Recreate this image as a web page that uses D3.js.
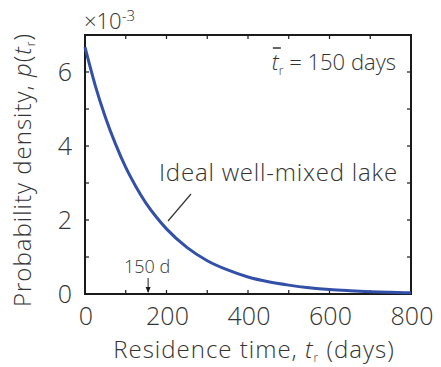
<!DOCTYPE html>
<html><head><meta charset="utf-8">
<script src="https://cdn.jsdelivr.net/npm/d3@7"></script>
<style>body{margin:0;background:#fff}svg text{font-family:"Open Sans",sans-serif;font-weight:300;fill:#333}</style>
</head><body><svg id="c" width="441" height="367"></svg>
<script>
// Residence time (days) and probability density (x10^-3)
const times = [0,25,50,75,100,125,150,175,200,250,300,350,400,450,500,550,600,650,700,750,800];
const density = [6.67,5.64,4.78,4.05,3.42,2.90,2.45,2.08,1.76,1.26,0.90,0.65,0.46,0.33,0.24,0.17,0.12,0.088,0.063,0.045,0.032];
const xTicks = [0,200,400,600,800];
const yTicks = [0,2,4,6];
const meanDays = 150;

const svg = d3.select("#c");
const x = d3.scaleLinear().domain([0,800]).range([85,411]);
const y = d3.scaleLinear().domain([0,7]).range([294,35]);
const ink = "#1a1a1a";

// frame
svg.append("rect").attr("x",85).attr("y",35).attr("width",326).attr("height",259)
  .attr("fill","none").attr("stroke",ink).attr("stroke-width",2);

// inward ticks on all sides
const xMinor = d3.range(100,800,100), yMinor = d3.range(1,7,1);
const tk = 4;
xMinor.forEach(v=>{
  svg.append("line").attr("x1",x(v)).attr("x2",x(v)).attr("y1",294).attr("y2",294-tk).attr("stroke",ink).attr("stroke-width",1.2);
  svg.append("line").attr("x1",x(v)).attr("x2",x(v)).attr("y1",35).attr("y2",35+tk).attr("stroke",ink).attr("stroke-width",1.2);
});
yMinor.forEach(v=>{
  svg.append("line").attr("x1",85).attr("x2",85+tk).attr("y1",y(v)).attr("y2",y(v)).attr("stroke",ink).attr("stroke-width",1.2);
  svg.append("line").attr("x1",411).attr("x2",411-tk).attr("y1",y(v)).attr("y2",y(v)).attr("stroke",ink).attr("stroke-width",1.2);
});

// tick labels
xTicks.forEach(v=>{
  svg.append("text").attr("x",x(v)+1).attr("y",325).attr("text-anchor","middle").attr("font-size",25).text(v);
});
yTicks.forEach(v=>{
  svg.append("text").attr("x",72).attr("y",y(v)+9).attr("text-anchor","end").attr("font-size",25).text(v);
});

// multiplier
const m = svg.append("text").attr("x",84).attr("y",29).attr("font-size",22);
m.append("tspan").text("×10");
m.append("tspan").attr("dy",-8).attr("font-size",15).text("-3");

// curve
const line = d3.line().x((d,i)=>x(times[i])).y(d=>y(d)).curve(d3.curveMonotoneX);
svg.append("path").datum(density).attr("d",line).attr("fill","none")
  .attr("stroke","#3350a8").attr("stroke-width",3);

// axis labels
const xl = svg.append("text").attr("x",254).attr("y",358).attr("text-anchor","middle").attr("font-size",24).attr("letter-spacing",1);
xl.append("tspan").text("Residence time, ");
xl.append("tspan").attr("font-style","italic").text("t");
xl.append("tspan").attr("font-size",12).attr("dy",4).text("r");
xl.append("tspan").attr("dy",-4).text(" (days)");

const yl = svg.append("text").attr("transform","translate(31,170) rotate(-90)").attr("text-anchor","middle").attr("font-size",24).attr("letter-spacing",1);
yl.append("tspan").text("Probability density, ");
yl.append("tspan").attr("font-style","italic").text("p");
yl.append("tspan").text("(");
yl.append("tspan").attr("font-style","italic").text("t");
yl.append("tspan").attr("font-size",12).attr("dy",4).text("r");
yl.append("tspan").attr("dy",-4).text(")");

// mean annotation
const mt = svg.append("text").attr("x",396).attr("y",70).attr("text-anchor","end").attr("font-size",22);
mt.append("tspan").attr("font-style","italic").text("t");
mt.append("tspan").attr("font-size",12).attr("dy",5).text("r");
mt.append("tspan").attr("dy",-5).text(" = " + meanDays + " days");
const ext = mt.node().getExtentOfChar(0);
svg.append("line").attr("x1",ext.x+1).attr("x2",ext.x+ext.width+2).attr("y1",48).attr("y2",48).attr("stroke","#333").attr("stroke-width",1.5);

// curve label
svg.append("text").attr("x",398).attr("y",181).attr("text-anchor","end").attr("font-size",24).attr("letter-spacing",0.8).text("Ideal well-mixed lake");
svg.append("line").attr("x1",168).attr("y1",221).attr("x2",191).attr("y2",194).attr("stroke","#333").attr("stroke-width",1.2);

// 150 d marker
svg.append("text").attr("x",x(meanDays)+1).attr("y",273).attr("text-anchor","middle").attr("font-size",18).text(meanDays+" d");
svg.append("line").attr("x1",x(meanDays)+2).attr("x2",x(meanDays)+2).attr("y1",278).attr("y2",292).attr("stroke",ink).attr("stroke-width",1);
svg.append("path").attr("d",`M${x(meanDays)-0.5},287 L${x(meanDays)+4.5},287 L${x(meanDays)+2},293 Z`).attr("fill",ink);
</script></body></html>
